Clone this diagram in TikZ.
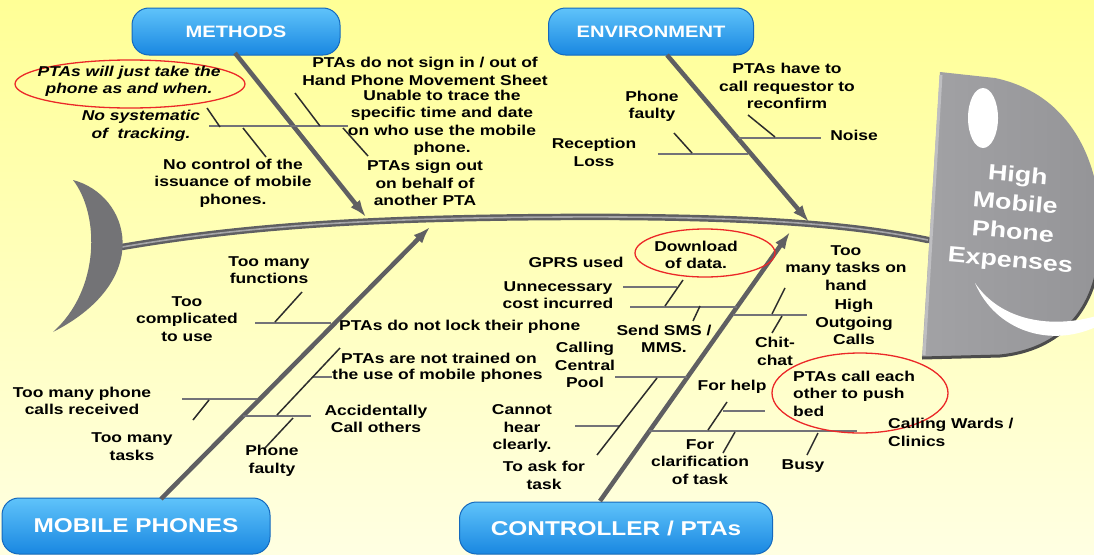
\documentclass[tikz,border=0pt]{standalone}
\usepackage{fontspec}
\setmainfont{Liberation Sans}[FakeStretch=1.22]
\usetikzlibrary{arrows.meta,shapes.geometric}
\definecolor{bgtop}{RGB}{255,255,150}
\definecolor{bgbot}{RGB}{255,255,226}
\definecolor{bluetop}{RGB}{95,195,250}
\definecolor{bluebot}{RGB}{25,135,225}
\definecolor{bluedk}{RGB}{20,105,190}
\definecolor{bone}{RGB}{95,95,98}
\definecolor{boneL}{RGB}{165,165,168}
\definecolor{subg}{RGB}{115,115,120}
\definecolor{tickc}{RGB}{45,45,45}
\definecolor{redc}{RGB}{235,40,40}
\definecolor{headL}{RGB}{162,162,165}
\definecolor{headR}{RGB}{148,148,151}
\definecolor{headB}{RGB}{190,190,193}
\definecolor{tailD}{RGB}{115,115,118}
\definecolor{tailL}{RGB}{215,215,217}
\begin{document}
\begin{tikzpicture}[x=1pt,y=-1pt,
  lbl/.style={font=\fontsize{14.3}{17.5}\selectfont\bfseries, align=center, inner sep=0pt, text=black},
  ilbl/.style={lbl, font=\fontsize{14.3}{17.5}\selectfont\bfseries\itshape},
  cat/.style={rounded corners=17pt, top color=bluetop, bottom color=bluebot, draw=bluedk, line width=1pt, text=white, font=\fontsize{16.5}{20}\selectfont\bfseries, inner sep=0pt},
  bigcat/.style={cat, font=\fontsize{20}{24}\selectfont\bfseries},
  bonearr/.style={line width=4.5pt, draw=bone, -{Latex[length=17pt,width=12pt]}},
  subl/.style={line width=2.8pt, draw=subg},
  tickl/.style={line width=1.5pt, draw=tickc},
  redring/.style={ellipse, draw=redc, line width=1.3pt, inner sep=0pt},
]
\useasboundingbox (0,0) rectangle (1094,554);
\shade[top color=bgtop, bottom color=bgbot] (0,0) rectangle (1094,554);

% ---------- spine ----------
\coordinate (spL) at (122,247);
\coordinate (spM) at (560,217);
\coordinate (spR) at (928,240);
\draw[line width=6.5pt, bone, line cap=round] (spL) .. controls (250,225) and (380,218) .. (spM) .. controls (750,216) and (850,224) .. (spR);
\draw[line width=1.6pt, boneL] (spL) .. controls (250,225) and (380,218) .. (spM) .. controls (750,216) and (850,224) .. (spR);

% ---------- tail ----------
\shade[left color=tailD, middle color=tailL, right color=tailD]
  (73,180) .. controls (130,195) and (155,280) .. (53,332)
  .. controls (100,290) and (100,215) .. (73,180) -- cycle;

% ---------- head ----------
\shade[left color=headL, right color=headR]
  (940,72) -- (995,78) .. controls (1075,95) and (1105,170) .. (1100,245)
  .. controls (1098,310) and (1060,350) .. (1000,356) -- (922,358) -- cycle;
\draw[line width=3pt, gray!60!black] (922,358) -- (1000,356) .. controls (1060,350) and (1098,310) .. (1100,245);
\draw[line width=3pt, headB] (941,75) -- (924,355);
\fill[white] (983,118) ellipse [x radius=15, y radius=30];
\fill[white] (975,283) .. controls (995,330) and (1050,350) .. (1100,325) -- (1100,315) .. controls (1050,330) and (1000,320) .. (975,283) -- cycle;
\node[rotate=-5, align=center, text=white, inner sep=0pt, font=\fontsize{22}{28.5}\selectfont\bfseries] (head) at (1014,219) {High\\Mobile\\Phone\\Expenses};

% ---------- categories ----------
\node[cat, minimum width=208pt, minimum height=47pt] (methods) at (236,31.5) {METHODS};
\node[cat, minimum width=205pt, minimum height=47pt] (env) at (651,31.5) {ENVIRONMENT};
\node[bigcat, minimum width=268pt, minimum height=56pt] (mobile) at (136,526) {MOBILE PHONES};
\node[bigcat, minimum width=313pt, minimum height=52pt] (ctrl) at (616,528) {CONTROLLER / PTAs};

% ---------- main bones ----------
\coordinate (mS) at (235,53);  \coordinate (mT) at (366,217);
\coordinate (eS) at (667,55);  \coordinate (eT) at (809,222);
\coordinate (pS) at (161,499); \coordinate (pT) at (430,227);
\coordinate (cS) at (600,501); \coordinate (cT) at (790,232);
\draw[bonearr] (mS) -- (mT);
\draw[bonearr] (eS) -- (eT);
\draw[bonearr] (pS) -- (pT);
\draw[bonearr] (cS) -- (cT);

% ---------- METHODS branch ----------
\coordinate (h1a) at (209,126); \coordinate (h1b) at (348,126);
\draw[subl] (h1a) -- (h1b);
\coordinate (tAa) at (207,108); \coordinate (tAb) at (220,127);
\coordinate (tBa) at (243,128); \coordinate (tBb) at (266,157);
\coordinate (tCa) at (295,93);  \coordinate (tCb) at (320,126);
\coordinate (tDa) at (343,128); \coordinate (tDb) at (368,156);
\draw[tickl] (tAa) -- (tAb);
\draw[tickl] (tBa) -- (tBb);
\draw[tickl] (tCa) -- (tCb);
\draw[tickl] (tDa) -- (tDb);
\node[redring, minimum width=230pt, minimum height=48pt] (r1) at (130,84) {};
\node[ilbl] (m1) at (129,81.5) {PTAs will just take the\\phone as and when.};
\node[ilbl] (m2) at (141,126) {No systematic\\of~ tracking.};
\node[lbl] (m3) at (425,71.5) {PTAs do not sign in / out of\\Hand Phone Movement Sheet};
\node[lbl] (m4) at (442,123) {Unable to trace the\\specific time and date\\on who use the mobile\\phone.};
\node[lbl] (m5) at (233,183) {No control of the\\issuance of mobile\\phones.};
\node[lbl] (m6) at (425,183) {PTAs sign out\\on behalf of\\another PTA};

% ---------- ENVIRONMENT branch ----------
\coordinate (nza) at (738,138); \coordinate (nzb) at (821,138);
\coordinate (rca) at (658,154); \coordinate (rcb) at (748,154);
\draw[subl] (nza) -- (nzb);
\draw[subl] (rca) -- (rcb);
\coordinate (t1a) at (748,115); \coordinate (t1b) at (775,137);
\coordinate (t2a) at (674,133); \coordinate (t2b) at (692,153);
\draw[tickl] (t1a) -- (t1b);
\draw[tickl] (t2a) -- (t2b);
\node[lbl] (e1) at (787,86) {PTAs have to\\call requestor to\\reconfirm};
\node[lbl] (e2) at (854,135) {Noise};
\node[lbl] (e3) at (652,106.5) {Phone\\faulty};
\node[lbl] (e4) at (594,152.5) {Reception\\Loss};

% ---------- MOBILE PHONES branch ----------
\coordinate (l1a) at (255,323); \coordinate (l1b) at (331,323);
\coordinate (l2a) at (182,399); \coordinate (l2b) at (257,399);
\coordinate (l3a) at (243,416); \coordinate (l3b) at (311,416);
\coordinate (l4a) at (313,377); \coordinate (l4b) at (332,377);
\draw[subl] (l1a) -- (l1b);
\draw[subl] (l2a) -- (l2b);
\draw[subl] (l3a) -- (l3b);
\draw[subl] (l4a) -- (l4b);
\coordinate (k1a) at (302,292); \coordinate (k1b) at (275,322);
\coordinate (k2a) at (209,400); \coordinate (k2b) at (193,420);
\coordinate (k3a) at (293,418); \coordinate (k3b) at (265,448);
\coordinate (k4a) at (340,348); \coordinate (k4b) at (277,415);
\draw[tickl] (k1a) -- (k1b);
\draw[tickl] (k2a) -- (k2b);
\draw[tickl] (k3a) -- (k3b);
\draw[tickl] (k4a) -- (k4b);
\node[lbl] (p1) at (269,270) {Too many\\functions};
\node[lbl] (p2) at (187,319) {Too\\complicated\\to use};
\node[lbl, anchor=west] (p3) at (339,327) {PTAs do not lock their phone};
\node[lbl, anchor=west] (p4) at (341,358) {PTAs are not trained on};
\node[lbl, anchor=west] (p5) at (332,376) {the use of mobile phones};
\node[lbl] (p6) at (82,401) {Too many phone\\calls received};
\node[lbl] (p7) at (132,446.5) {Too many\\tasks};
\node[lbl] (p8) at (376,419) {Accidentally\\Call others};
\node[lbl] (p9) at (272,461) {Phone\\faulty};

% ---------- CONTROLLER branch ----------
\coordinate (c1a) at (623,287); \coordinate (c1b) at (677,287);
\coordinate (c2a) at (630,307); \coordinate (c2b) at (737,307);
\coordinate (c3a) at (733,315); \coordinate (c3b) at (807,315);
\coordinate (c4a) at (615,377); \coordinate (c4b) at (687,377);
\coordinate (c5a) at (575,426); \coordinate (c5b) at (620,426);
\coordinate (c6a) at (649,431); \coordinate (c6b) at (857,431);
\coordinate (c7a) at (723,411); \coordinate (c7b) at (765,411);
\draw[subl] (c1a) -- (c1b);
\draw[subl] (c2a) -- (c2b);
\draw[subl] (c3a) -- (c3b);
\draw[subl] (c4a) -- (c4b);
\draw[subl] (c5a) -- (c5b);
\draw[subl] (c6a) -- (c6b);
\draw[subl] (c7a) -- (c7b);
\coordinate (d1a) at (683,280); \coordinate (d1b) at (665,306);
\coordinate (d2a) at (700,306); \coordinate (d2b) at (693,321);
\coordinate (d3a) at (785,288); \coordinate (d3b) at (772,314);
\coordinate (d4a) at (782,316); \coordinate (d4b) at (772,333);
\coordinate (d5a) at (657,378); \coordinate (d5b) at (597,455);
\coordinate (d6a) at (727,402); \coordinate (d6b) at (708,430);
\coordinate (d7a) at (735,432); \coordinate (d7b) at (723,453);
\coordinate (d8a) at (818,433); \coordinate (d8b) at (807,455);
\draw[tickl] (d1a) -- (d1b);
\draw[tickl] (d2a) -- (d2b);
\draw[tickl] (d3a) -- (d3b);
\draw[tickl] (d4a) -- (d4b);
\draw[tickl] (d5a) -- (d5b);
\draw[tickl] (d6a) -- (d6b);
\draw[tickl] (d7a) -- (d7b);
\draw[tickl] (d8a) -- (d8b);
\node[redring, minimum width=140pt, minimum height=48pt] (r2) at (705,253) {};
\node[redring, minimum width=176pt, minimum height=80pt] (r3) at (860,393) {};
\node[lbl] (q1) at (576,262) {GPRS used};
\node[lbl] (q2) at (558,295) {Unnecessary\\cost incurred};
\node[lbl] (q3) at (696,255) {Download\\of data.};
\node[lbl] (q4) at (664,339) {Send SMS /\\MMS.};
\node[lbl] (q5) at (585,365) {Calling\\Central\\Pool};
\node[lbl] (q6) at (522,428.5) {Cannot\\hear\\clearly.};
\node[lbl] (q7) at (544,475.5) {To ask for\\task};
\node[lbl] (q8) at (846,268) {Too\\many tasks on\\hand};
\node[lbl] (q9) at (854,322) {High\\Outgoing\\Calls};
\node[lbl] (q10) at (775,351.5) {Chit-\\chat};
\node[lbl, align=left, anchor=west] (q11) at (793,393.5) {PTAs call each\\other to push\\bed};
\node[lbl] (q12) at (732,387) {For help};
\node[lbl] (q13) at (700,462) {For\\clarification\\of task};
\node[lbl] (q14) at (803,466) {Busy};
\node[lbl, align=left, anchor=west] (q15) at (888,432.5) {Calling Wards /\\Clinics};
\end{tikzpicture}
\end{document}
